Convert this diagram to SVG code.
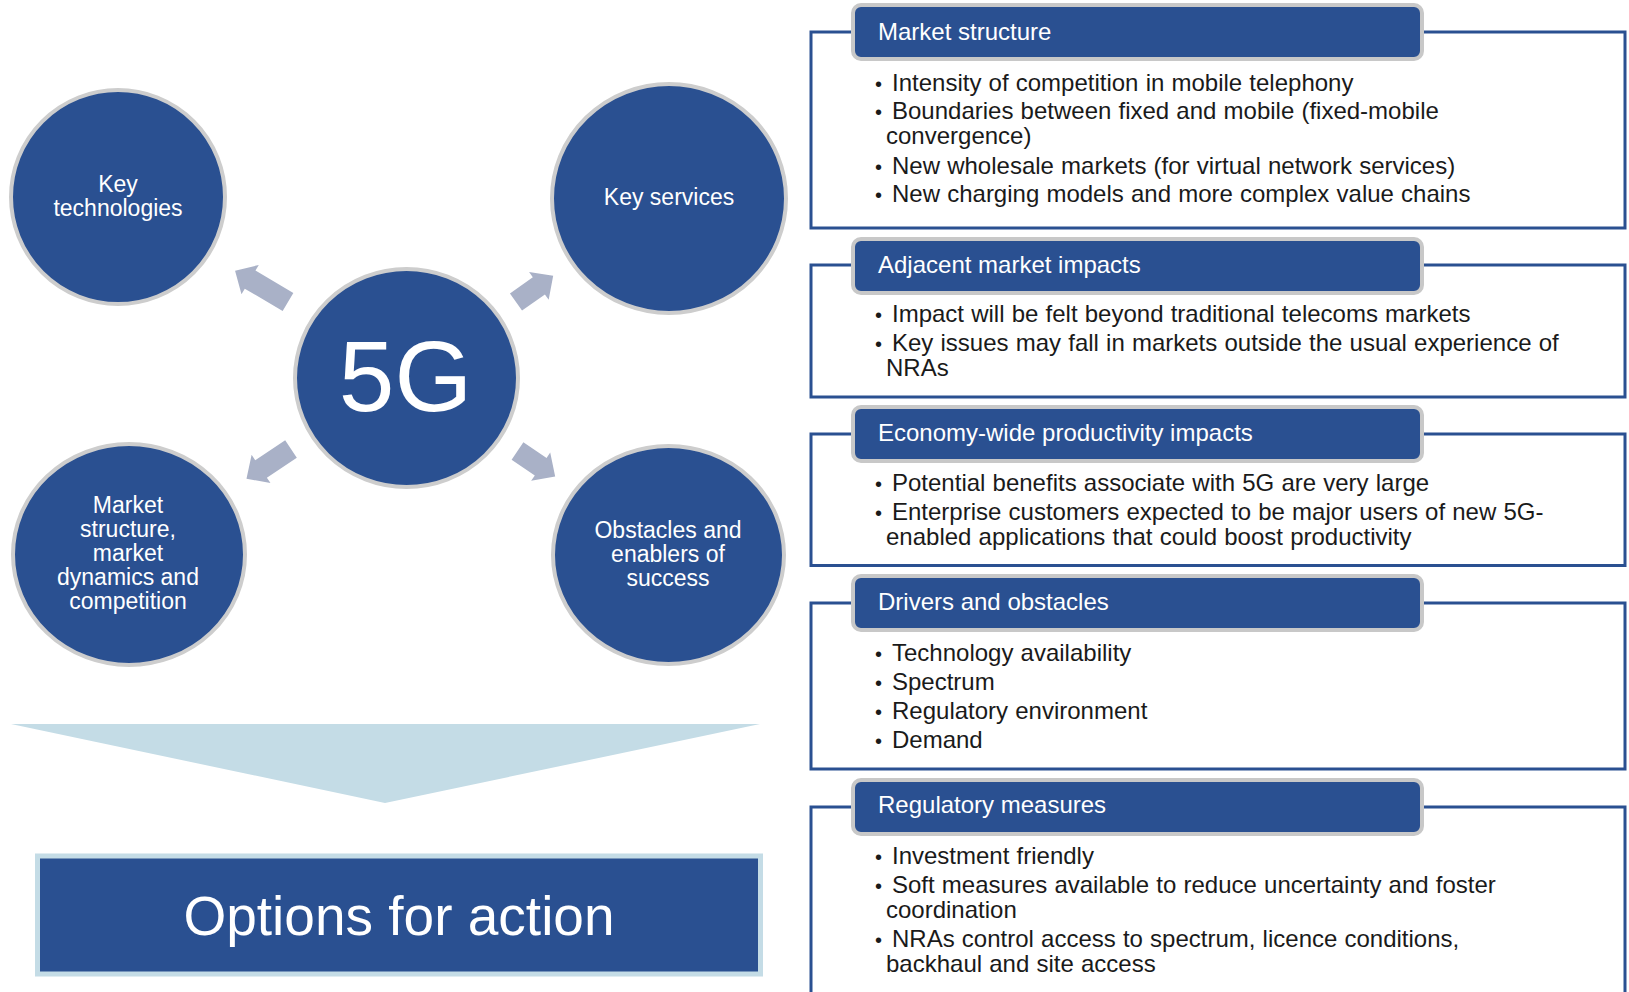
<svg xmlns="http://www.w3.org/2000/svg" width="1629" height="992" viewBox="0 0 1629 992">
<defs>
<style>
.c{fill:#2A5091;stroke:#CDCDCD;stroke-width:4}
.ct{font-family:"Liberation Sans",Arial,sans-serif;font-size:23px;fill:#FFFFFF;text-anchor:middle}
.arr{fill:#A9B1C7}
.frame{fill:#FFFFFF;stroke:#2A5091;stroke-width:3}
.hdr{fill:#2A5091;stroke:#C8C8C8;stroke-width:4}
.ht{font-family:"Liberation Sans",Arial,sans-serif;font-size:24px;fill:#FFFFFF}
.bt{font-family:"Liberation Sans",Arial,sans-serif;font-size:24px;fill:#1A1A1A;word-spacing:0.5px}
.bu{font-family:"Liberation Sans",Arial,sans-serif;font-size:20px;fill:#1A1A1A}
</style>
</defs>
<rect width="1629" height="992" fill="#FFFFFF"/>

<g id="connectors">
<path class="arr" transform="translate(288,302) rotate(210.6)" d="M0,-10.5 L44,-10.5 L44,-17 L61.5,0 L44,17 L44,10.5 L0,10.5 Z"/>
<path class="arr" transform="translate(516,302) rotate(-35.2)" d="M0,-10.5 L28,-10.5 L28,-17 L45.5,0 L28,17 L28,10.5 L0,10.5 Z"/>
<path class="arr" transform="translate(291,449) rotate(146.3)" d="M0,-10.5 L36,-10.5 L36,-17 L53.5,0 L36,17 L36,10.5 L0,10.5 Z"/>
<path class="arr" transform="translate(517.5,451) rotate(34.1)" d="M0,-10.5 L28,-10.5 L28,-17 L45.5,0 L28,17 L28,10.5 L0,10.5 Z"/>
</g>

<g id="node-key-technologies">
<circle class="c" cx="118" cy="197" r="107"/>
<text class="ct" x="118" y="192">Key</text>
<text class="ct" x="118" y="216">technologies</text>
</g>

<g id="node-key-services">
<ellipse class="c" cx="669" cy="198.5" rx="117" ry="114.5"/>
<text class="ct" x="669" y="205">Key services</text>
</g>

<g id="node-5g">
<ellipse class="c" cx="406.5" cy="378" rx="111.5" ry="109"/>
<text x="405.5" y="411" font-family="Liberation Sans, Arial, sans-serif" font-size="100" fill="#FFFFFF" text-anchor="middle">5G</text>
</g>

<g id="node-market-structure">
<ellipse class="c" cx="129" cy="554.5" rx="116" ry="110.5"/>
<text class="ct" x="128" y="513">Market</text>
<text class="ct" x="128" y="537">structure,</text>
<text class="ct" x="128" y="561">market</text>
<text class="ct" x="128" y="585">dynamics and</text>
<text class="ct" x="128" y="609">competition</text>
</g>

<g id="node-obstacles">
<ellipse class="c" cx="668.5" cy="555" rx="115.5" ry="109"/>
<text class="ct" x="668" y="538">Obstacles and</text>
<text class="ct" x="668" y="561.5">enablers of</text>
<text class="ct" x="668" y="585.5">success</text>
</g>

<g id="big-arrow">
<polygon points="11,724 760,724 385,803" fill="#C4DCE6"/>
</g>

<g id="node-options">
<rect x="37.5" y="856" width="723" height="118" fill="#2A5091" stroke="#C4DCE6" stroke-width="5"/>
<text x="399" y="935" font-family="Liberation Sans, Arial, sans-serif" font-size="55" fill="#FFFFFF" text-anchor="middle">Options for action</text>
</g>

<g id="box-market-structure">
<rect class="frame" x="811" y="32" width="814" height="196"/>
<rect class="hdr" x="853" y="5" width="569" height="54" rx="8"/>
<text class="ht" x="878" y="40">Market structure</text>
<text class="bu" x="875" y="91">•</text><text class="bt" x="892" y="91">Intensity of competition in mobile telephony</text>
<text class="bu" x="875" y="119">•</text><text class="bt" x="892" y="119">Boundaries between fixed and mobile (fixed-mobile</text>
<text class="bt" x="886" y="144">convergence)</text>
<text class="bu" x="875" y="174">•</text><text class="bt" x="892" y="174">New wholesale markets (for virtual network services)</text>
<text class="bu" x="875" y="202">•</text><text class="bt" x="892" y="202">New charging models and more complex value chains</text>
</g>

<g id="box-adjacent">
<rect class="frame" x="811" y="265" width="814" height="132"/>
<rect class="hdr" x="853" y="239" width="569" height="54" rx="8"/>
<text class="ht" x="878" y="273">Adjacent market impacts</text>
<text class="bu" x="875" y="322">•</text><text class="bt" x="892" y="322">Impact will be felt beyond traditional telecoms markets</text>
<text class="bu" x="875" y="351">•</text><text class="bt" x="892" y="351">Key issues may fall in markets outside the usual experience of</text>
<text class="bt" x="886" y="376">NRAs</text>
</g>

<g id="box-economy">
<rect class="frame" x="811" y="434" width="814" height="131.5"/>
<rect class="hdr" x="853" y="407" width="569" height="54" rx="8"/>
<text class="ht" x="878" y="441">Economy-wide productivity impacts</text>
<text class="bu" x="875" y="491">•</text><text class="bt" x="892" y="491">Potential benefits associate with 5G are very large</text>
<text class="bu" x="875" y="520">•</text><text class="bt" x="892" y="520">Enterprise customers expected to be major users of new 5G-</text>
<text class="bt" x="886" y="545">enabled applications that could boost productivity</text>
</g>

<g id="box-drivers">
<rect class="frame" x="811" y="603" width="814" height="166"/>
<rect class="hdr" x="853" y="576" width="569" height="54" rx="8"/>
<text class="ht" x="878" y="610">Drivers and obstacles</text>
<text class="bu" x="875" y="661">•</text><text class="bt" x="892" y="661">Technology availability</text>
<text class="bu" x="875" y="689.5">•</text><text class="bt" x="892" y="689.5">Spectrum</text>
<text class="bu" x="875" y="719">•</text><text class="bt" x="892" y="719">Regulatory environment</text>
<text class="bu" x="875" y="748">•</text><text class="bt" x="892" y="748">Demand</text>
</g>

<g id="box-regulatory">
<rect class="frame" x="811" y="807" width="814" height="200"/>
<rect class="hdr" x="853" y="780" width="569" height="54" rx="8"/>
<text class="ht" x="878" y="813">Regulatory measures</text>
<text class="bu" x="875" y="864">•</text><text class="bt" x="892" y="864">Investment friendly</text>
<text class="bu" x="875" y="893">•</text><text class="bt" x="892" y="893">Soft measures available to reduce uncertainty and foster</text>
<text class="bt" x="886" y="918">coordination</text>
<text class="bu" x="875" y="947">•</text><text class="bt" x="892" y="947">NRAs control access to spectrum, licence conditions,</text>
<text class="bt" x="886" y="972">backhaul and site access</text>
</g>
</svg>
